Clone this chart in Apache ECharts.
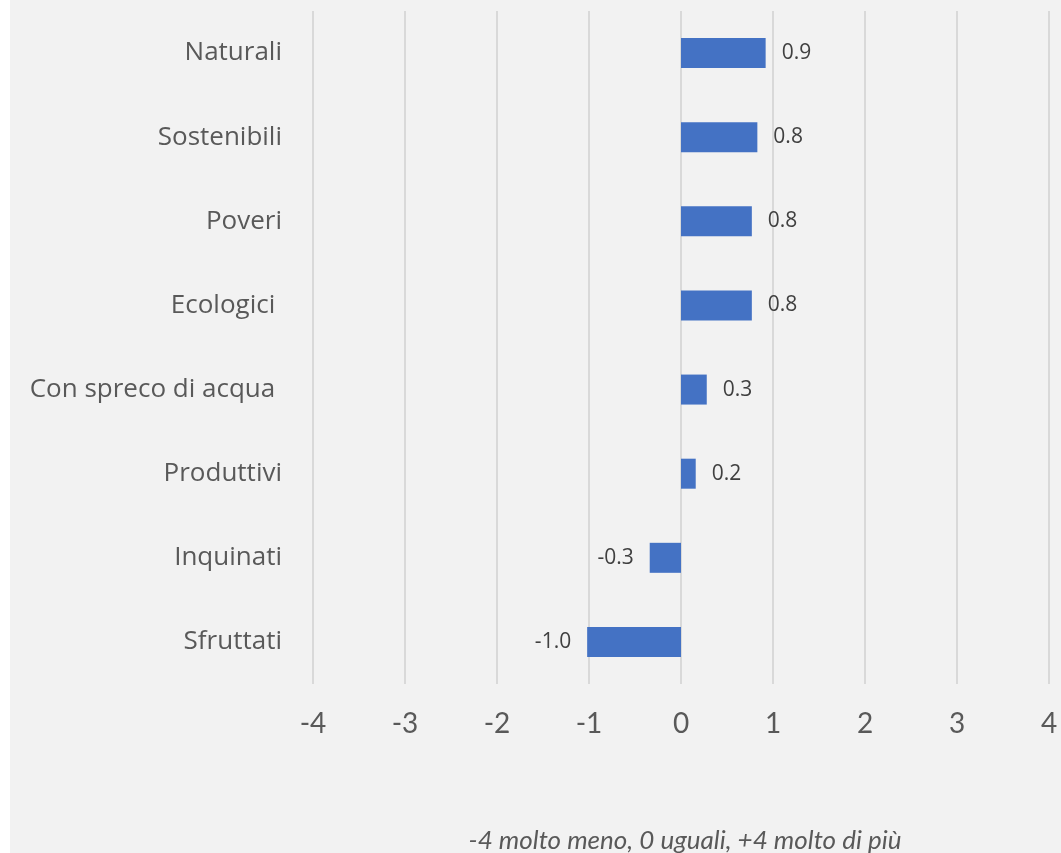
<!DOCTYPE html>
<html>
<head>
<meta charset="utf-8">
<script src="https://cdn.jsdelivr.net/npm/echarts@6/dist/echarts.min.js"></script>
<style>
html,body{margin:0;padding:0;background:#ffffff;}
#c{position:absolute;left:10px;top:0;width:1051px;height:853px;}
</style>
</head>
<body>
<div id="c"></div>
<script>
const categories = ['Naturali','Sostenibili','Poveri','Ecologici ','Con spreco di acqua ','Produttivi','Inquinati','Sfruttati'];
const values = [0.92, 0.83, 0.77, 0.77, 0.28, 0.16, -0.34, -1.02];
const xTicks = [-4, -3, -2, -1, 0, 1, 2, 3, 4];
const axisTitle = '-4 molto meno, 0 uguali, +4 molto di più';

const chart = echarts.init(document.getElementById('c'));
chart.setOption({
  backgroundColor: '#f2f2f2',
  animation: false,
  grid: { left: 303, right: 12, top: 11, bottom: 169 },
  title: {
    text: axisTitle,
    left: 670, top: 823, textAlign: 'center',
    textStyle: { fontFamily: 'Lato', fontStyle: 'italic', fontWeight: 'normal', fontSize: 26, color: '#595959' }
  },
  xAxis: {
    type: 'value', min: xTicks[0], max: xTicks[xTicks.length-1], interval: 1,
    axisLine: { show: false }, axisTick: { show: false },
    splitLine: { show: true, lineStyle: { color: '#d9d9d9', width: 2 } },
    axisLabel: { fontFamily: 'Lato', fontSize: 28, color: '#595959', margin: 26 }
  },
  yAxis: {
    type: 'category', data: categories, inverse: true,
    axisLine: { show: false }, axisTick: { show: false },
    axisLabel: { fontFamily: '"Open Sans", sans-serif', fontSize: 26, color: '#595959', margin: 31 }
  },
  series: [{
    type: 'bar',
    data: values.map(v => ({
      value: v,
      label: { position: v >= 0 ? 'right' : 'left' }
    })),
    barWidth: 30,
    itemStyle: { color: '#4472c4' },
    label: {
      show: true, distance: 16,
      fontFamily: '"Open Sans", sans-serif', fontSize: 21, color: '#404040',
      formatter: p => p.value.toFixed(1)
    }
  }]
});
</script>
</body>
</html>
